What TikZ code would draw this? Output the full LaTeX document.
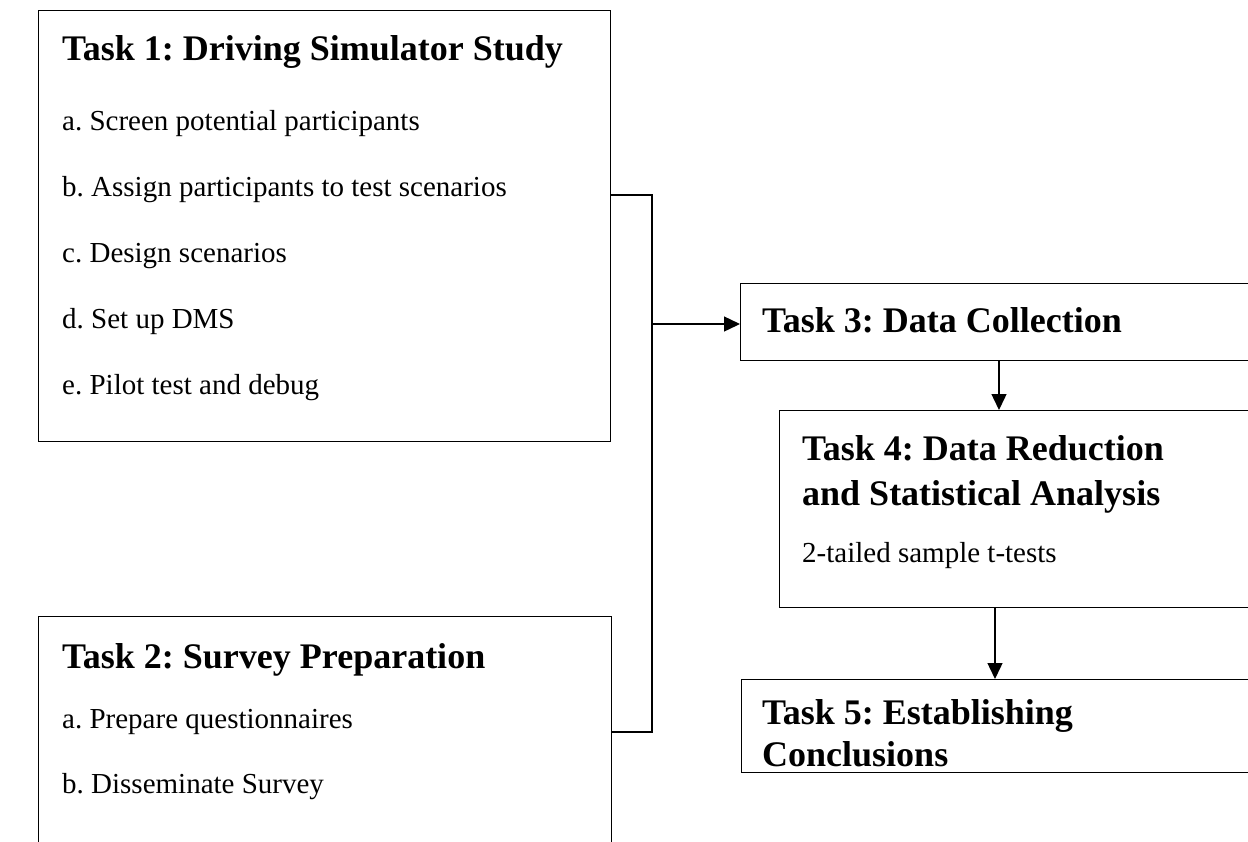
\documentclass[tikz,border=0pt]{standalone}
\usepackage{fontspec}
\setmainfont{Liberation Serif}
\usetikzlibrary{arrows.meta}
\tikzset{
  x=1pt, y=-1pt,
  box/.style={draw, line width=1.4pt, anchor=north west, inner sep=0pt, minimum width=#1},
  ttl/.style={anchor=base west, inner sep=0pt, font=\fontsize{36}{42}\selectfont\bfseries},
  itm/.style={anchor=base west, inner sep=0pt, font=\fontsize{29}{34}\selectfont},
  conn/.style={line width=1.4pt},
  arr/.style={line width=1.4pt, -{Triangle[length=16pt,width=15pt]}}
}
\frenchspacing
\begin{document}
\begin{tikzpicture}
\useasboundingbox (0,0) rectangle (1248,841);
\clip (0,0) rectangle (1248,841);
% boxes
\node[box=572pt, minimum height=431pt] (t1) at (38,10) {};
\node[box=573pt, minimum height=300pt] (t2) at (38,616) {};
\node[box=600pt, minimum height=77pt] (t3) at (740,283) {};
\node[box=600pt, minimum height=197pt] (t4) at (779,410) {};
\node[box=600pt, minimum height=93pt] (t5) at (741,679) {};
% texts Task 1
\node[ttl] (t1h) at (62,60) {Task 1: Driving Simulator Study};
\node[itm] (t1a) at (62,130) {a. Screen potential participants};
\node[itm] (t1b) at (62,196) {b. Assign participants to test scenarios};
\node[itm] (t1c) at (62,262) {c. Design scenarios};
\node[itm] (t1d) at (62,328) {d. Set up DMS};
\node[itm] (t1e) at (62,394) {e. Pilot test and debug};
% Task 2
\node[ttl] (t2h) at (62,668) {Task 2: Survey Preparation};
\node[itm] (t2a) at (62,728) {a. Prepare questionnaires};
\node[itm] (t2b) at (62,793) {b. Disseminate Survey};
% Task 3
\node[ttl] (t3h) at (762,332) {Task 3: Data Collection};
% Task 4
\node[ttl] (t4h) at (802,460) {Task 4: Data Reduction};
\node[ttl] (t4h2) at (802,505) {and Statistical Analysis};
\node[itm] (t4a) at (802,562) {2-tailed sample t-tests};
% Task 5
\node[ttl] (t5h) at (762,724) {Task 5: Establishing};
\node[ttl] (t5h2) at (762,766) {Conclusions};
% connectors
\coordinate (j1) at (652,195);
\coordinate (j2) at (652,732);
\coordinate (jm) at (652,324);
\coordinate (c34) at (999,0);
\coordinate (c45) at (995,0);
\draw[conn] (j1 -| t1.east) -- (j1) -- (j2) -- (j2 -| t2.east);
\draw[arr] (jm) -- (jm -| t3.west);
\draw[arr] (c34 |- t3.south) -- (c34 |- t4.north);
\draw[arr] (c45 |- t4.south) -- (c45 |- t5.north);
\end{tikzpicture}
\end{document}
